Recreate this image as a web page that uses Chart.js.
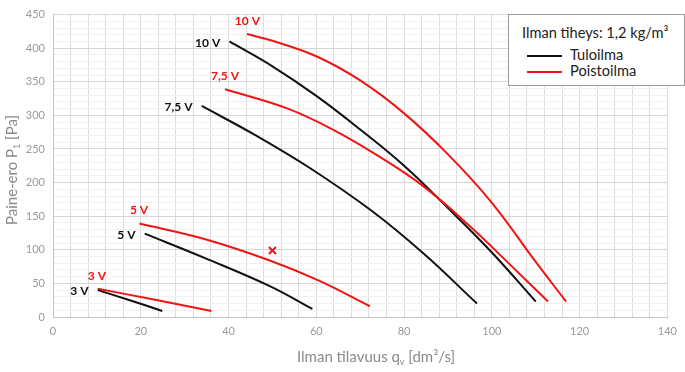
<!DOCTYPE html>
<html>
<head>
<meta charset="utf-8">
<script src="https://cdn.jsdelivr.net/npm/chart.js@4"></script>
<style>
  body { margin: 0; background: #fff; }
  #wrap { position: relative; width: 685px; height: 372px; }
  #legend {
    position: absolute; left: 508px; top: 14px; width: 175px; height: 70px;
    border: 1px solid #9a9a9a; background: #fff;
    font-family: Lato, 'DejaVu Sans', sans-serif; color: #222;
  }
  #legend .ttl { position: absolute; left: 13px; top: 9px; font-size: 14.6px; white-space: nowrap; }
  #legend .row { position: absolute; left: 18px; font-size: 14.6px; white-space: nowrap; }
  #legend .row i { display: inline-block; width: 35px; height: 2px; vertical-align: middle; margin-right: 8px; }
</style>
</head>
<body>
<div id="wrap">
  <canvas id="chart" width="685" height="372"></canvas>
  <div id="legend">
    <div class="ttl">Ilman tiheys: 1,2 kg/m³</div>
    <div class="row" style="top:31px"><i style="background:#111"></i>Tuloilma</div>
    <div class="row" style="top:47px"><i style="background:#f01414"></i>Poistoilma</div>
  </div>
</div>
<script>
// curve values: [q (dm3/s), p (Pa)]
const black3V = [[10.2, 40], [17.5, 25], [24.9, 9]];
const red3V = [[10.2, 42], [23, 26], [36.1, 9]];
const black5V = [[20.9, 124], [34.5, 88], [49.4, 46], [59.1, 12]];
const red5V = [[19.7, 139], [34.5, 116], [49.4, 84], [60.6, 54], [72.2, 16]];
const black75V = [[33.9, 314], [46, 271], [58.7, 221], [72.6, 158], [84.5, 94], [96.6, 20]];
const red75V = [[39.2, 339], [53.5, 310], [64.3, 277], [74, 240], [84.5, 194], [95, 135], [103.5, 82], [112.8, 23]];
const black10V = [[40.2, 410], [50, 373], [60, 329], [70, 279], [80, 225], [90, 162], [100, 96], [110, 23]];
const red10V = [[44.2, 421], [50, 411], [60, 388], [70, 352], [80, 303], [90, 242], [100, 170], [110, 82], [116.9, 23]];
const designPoint = [[50, 99]];

// curve tags: text, colour, anchor in data units, alignment
const curveLabels = [
  ['10 V', 'red', 44.3, 440, 'center'],
  ['10 V', 'black', 38.1, 407, 'right'],
  ['7,5 V', 'red', 39.2, 359, 'center'],
  ['7,5 V', 'black', 31.8, 313, 'right'],
  ['5 V', 'red', 19.6, 159, 'center'],
  ['5 V', 'black', 18.8, 122, 'right'],
  ['3 V', 'red', 10.0, 61, 'center'],
  ['3 V', 'black', 8.1, 38, 'right'],
];

const xMax = 140, xStep = 4, xLabelEvery = 20;
const yMax = 450, yStep = 10, yLabelEvery = 50;

const RED = '#f01414', BLACK = '#111';
const FONT = "Lato, 'DejaVu Sans', sans-serif";

function curve(pts, color) {
  return {
    data: pts.map(p => ({ x: p[0], y: p[1] })),
    borderColor: color,
    borderWidth: 2,
    pointRadius: 0,
    tension: 0.4,
    fill: false,
  };
}

const labelPlugin = {
  id: 'curveLabels',
  afterDatasetsDraw(chart) {
    const { ctx, scales: { x, y } } = chart;
    ctx.save();
    ctx.font = 'bold 12px ' + FONT;
    ctx.textBaseline = 'middle';
    curveLabels.forEach(([t, c, vx, vy, al]) => {
      ctx.fillStyle = c === 'red' ? RED : BLACK;
      ctx.textAlign = al;
      ctx.fillText(t, x.getPixelForValue(vx), y.getPixelForValue(vy));
    });
    ctx.restore();
  }
};

// axis titles with sub/superscripts
function drawParts(ctx, parts, cx, cy) {
  let w = 0;
  parts.forEach(p => { ctx.font = p[1] + 'px ' + FONT; w += ctx.measureText(p[0]).width; });
  let px = cx - w / 2;
  parts.forEach(p => {
    ctx.font = p[1] + 'px ' + FONT;
    ctx.fillText(p[0], px, cy + p[2]);
    px += ctx.measureText(p[0]).width;
  });
}

const titlePlugin = {
  id: 'axisTitles',
  afterDraw(chart) {
    const ctx = chart.ctx;
    ctx.save();
    ctx.fillStyle = '#8a8a8a';
    ctx.textAlign = 'left';
    ctx.textBaseline = 'alphabetic';
    drawParts(ctx, [['Ilman tilavuus q', 15, 0], ['v', 9, 3], [' [dm³/s]', 15, 0]], 376, 362);
    ctx.translate(17, 170);
    ctx.rotate(-Math.PI / 2);
    drawParts(ctx, [['Paine-ero P', 15, 0], ['1', 9, 3], [' [Pa]', 15, 0]], 0, 0);
    ctx.restore();
  }
};

new Chart(document.getElementById('chart'), {
  type: 'line',
  data: {
    datasets: [
      curve(black3V, BLACK), curve(red3V, RED),
      curve(black5V, BLACK), curve(red5V, RED),
      curve(black75V, BLACK), curve(red75V, RED),
      curve(black10V, BLACK), curve(red10V, RED),
      {
        data: designPoint.map(p => ({ x: p[0], y: p[1] })),
        showLine: false,
        pointStyle: 'crossRot',
        pointRadius: 5,
        pointBorderWidth: 2,
        pointBorderColor: RED,
      },
    ]
  },
  options: {
    responsive: false,
    animation: false,
    layout: { padding: { left: 0, top: 11, right: 8, bottom: 0 } },
    plugins: { legend: { display: false }, tooltip: { enabled: false } },
    scales: {
      x: {
        type: 'linear', min: 0, max: xMax,
        afterFit: s => { s.height = 55; },
        ticks: {
          stepSize: xStep, autoSkip: false, maxRotation: 0, padding: 8,
          color: '#9a9a9a', font: { family: FONT, size: 11 },
          callback: v => (v % xLabelEvery === 0 ? v : ''),
        },
        grid: { color: '#dcdcdc', drawTicks: false },
        border: { color: '#c4c4c4' },
      },
      y: {
        min: 0, max: yMax,
        afterFit: s => { s.width = 53; },
        ticks: {
          stepSize: yStep, autoSkip: false, padding: 8,
          color: '#9a9a9a', font: { family: FONT, size: 11 },
          callback: v => (v % yLabelEvery === 0 ? v : ''),
        },
        grid: {
          color: c => (c.tick && c.tick.value % yLabelEvery === 0 ? '#d6d6d6' : '#f0f0f0'),
          drawTicks: false,
        },
        border: { color: '#c4c4c4' },
      },
    },
  },
  plugins: [labelPlugin, titlePlugin],
});
</script>
</body>
</html>
